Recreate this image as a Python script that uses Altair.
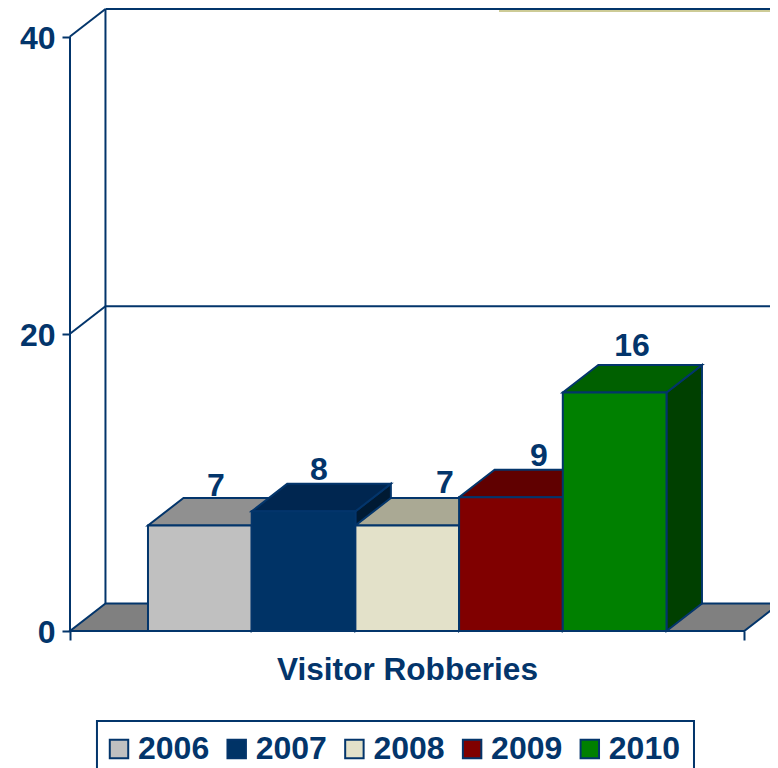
import altair as alt
import pandas as pd

years = ["2006", "2007", "2008", "2009", "2010"]
values = [7.1, 8.05, 7.1, 9.0, 16.05]
front_colors = ["#C0C0C0", "#003366", "#E3E1C9", "#800000", "#008000"]
top_colors = ["#909090", "#002650", "#AAA994", "#600000", "#006000"]
side_colors = ["#606060", "#001A33", "#71715F", "#400000", "#004000"]
label_shift = [0.656, 0.649, 0.864, 0.77, 0.667]
label_lift = [1.98, 2.08, 2.17, 2.1, 2.45]
y_ticks = [0, 20, 40]

NAVY = "#03356B"
FONT = "Liberation Sans"
DX, DY = 0.342, 1.85
LEFT, RIGHT = -0.752, 5.75
XMAX, YMAX = 5.998, 41.92
LW = 2

xs = alt.Scale(domain=[LEFT, XMAX], nice=False, zero=False)
ys = alt.Scale(domain=[0, YMAX], nice=False, zero=False)

x_axis = alt.Axis(
    values=[LEFT, RIGHT],
    labels=False,
    domain=False,
    grid=False,
    tickSize=9,
    tickWidth=LW,
    tickColor=NAVY,
    title="Visitor Robberies",
    titleFont=FONT,
    titleFontSize=31.6,
    titleFontWeight="bold",
    titleColor=NAVY,
    titleX=337,
    titleY=48,
    titleAlign="center",
    titleBaseline="alphabetic",
    titleAnchor="start",
)
y_axis = alt.Axis(
    values=y_ticks,
    format="d",
    domain=False,
    grid=False,
    title=None,
    tickSize=8,
    tickWidth=LW,
    tickColor=NAVY,
    labelFont=FONT,
    labelFontSize=32,
    labelFontWeight="bold",
    labelColor=NAVY,
    labelPadding=7,
    labelBaseline="middle",
    labelOffset=1.5,
)


def X(f="x", **k):
    return alt.X(f, type="quantitative", scale=xs, axis=x_axis, **k)


def Y(f="y", **k):
    return alt.Y(f, type="quantitative", scale=ys, axis=y_axis, **k)


X2 = lambda f="x2": alt.X2(f)
Y2 = lambda f="y2": alt.Y2(f)

band = alt.Chart(pd.DataFrame({"x": [3.385], "x2": [XMAX], "y": [41.65], "y2": [YMAX]})).mark_rect(
    fill="#CDCB96"
).encode(x=X(), x2=X2(), y=Y(), y2=Y2())

frame = alt.Chart(pd.DataFrame({"x": [-0.492], "x2": [5.265], "y": [-6.06], "y2": [-12]})).mark_rect(
    fill="white", stroke=NAVY, strokeWidth=LW
).encode(x=X(), x2=X2(), y=Y(), y2=Y2())

segments = pd.DataFrame(
    [
        {"x": LEFT, "x2": LEFT, "y": 0, "y2": 40},
        {"x": LEFT + DX, "x2": LEFT + DX, "y": DY, "y2": 40 + DY},
        {"x": LEFT, "x2": LEFT + DX, "y": 20, "y2": 20 + DY},
        {"x": LEFT, "x2": LEFT + DX, "y": 40, "y2": 40 + DY},
        {"x": LEFT + DX, "x2": XMAX, "y": 20 + DY, "y2": 20 + DY},
        {"x": LEFT + DX, "x2": XMAX, "y": 40 + DY, "y2": 40 + DY},
        {"x": LEFT, "x2": RIGHT, "y": 0, "y2": 0},
    ]
)
walls = alt.Chart(segments).mark_rule(color=NAVY, strokeWidth=LW).encode(
    x=X(), x2=X2(), y=Y(), y2=Y2()
)

floor_df = pd.DataFrame(
    {"x": [LEFT, LEFT + DX], "x2": [RIGHT, RIGHT + DX], "y": [0, DY]}
)
floor = alt.Chart(floor_df).mark_area(
    orient="horizontal", fill="#808080", stroke=NAVY, strokeWidth=LW, opacity=1
).encode(x=X(stack=None), x2=X2(), y=Y())

layers = [band, frame, floor, walls]

color = alt.Color(
    "year:N",
    scale=alt.Scale(domain=years, range=front_colors),
    legend=alt.Legend(
        title=None,
        orient="none",
        legendX=21,
        legendY=713,
        direction="horizontal",
        columns=5,
        symbolType="square",
        symbolSize=340,
        symbolStrokeColor=NAVY,
        symbolStrokeWidth=2,
        symbolOpacity=1,
        labelFont=FONT,
        labelFontSize=32,
        labelFontWeight="bold",
        labelColor=NAVY,
        labelOffset=3,
        columnPadding=10.7,
        padding=12,
    ),
)

for i, year in enumerate(years):
    x0, x1, v = i, i + 1, values[i]
    side = pd.DataFrame({"x": [x1, x1 + DX], "y": [v, v + DY], "y2": [0, DY]})
    top = pd.DataFrame({"x": [x0, x0 + DX], "x2": [x1, x1 + DX], "y": [v, v + DY]})
    front = pd.DataFrame({"x": [x0], "x2": [x1], "y": [v], "y2": [0], "year": [year]})
    layers.append(
        alt.Chart(side).mark_area(fill=side_colors[i], stroke=NAVY, strokeWidth=LW, opacity=1)
        .encode(x=X(), y=Y(stack=None), y2=Y2())
    )
    layers.append(
        alt.Chart(top).mark_area(orient="horizontal", fill=top_colors[i], stroke=NAVY, strokeWidth=LW, opacity=1)
        .encode(x=X(stack=None), x2=X2(), y=Y())
    )
    layers.append(
        alt.Chart(front).mark_rect(stroke=NAVY, strokeWidth=LW, opacity=1)
        .encode(x=X(), x2=X2(), y=Y(), y2=Y2(), fill=color)
    )

labels = pd.DataFrame(
    {
        "x": [i + s for i, s in enumerate(label_shift)],
        "y": [v + l for v, l in zip(values, label_lift)],
        "value": values,
    }
)
layers.append(
    alt.Chart(labels)
    .mark_text(font=FONT, fontSize=32, fontWeight="bold", color=NAVY, align="center", baseline="alphabetic")
    .encode(x=X(), y=Y(), text=alt.Text("value:Q", format=".0f"))
)

chart = (
    alt.layer(*layers)
    .properties(
        width=700,
        height=623,
        autosize=alt.AutoSizeParams(type="none"),
        padding={"left": 62, "top": 0, "right": 0, "bottom": 137},
        background="white",
    )
    .configure_view(stroke=None)
)

chart.save("out.html", embed_options={"renderer": "svg", "actions": False})
